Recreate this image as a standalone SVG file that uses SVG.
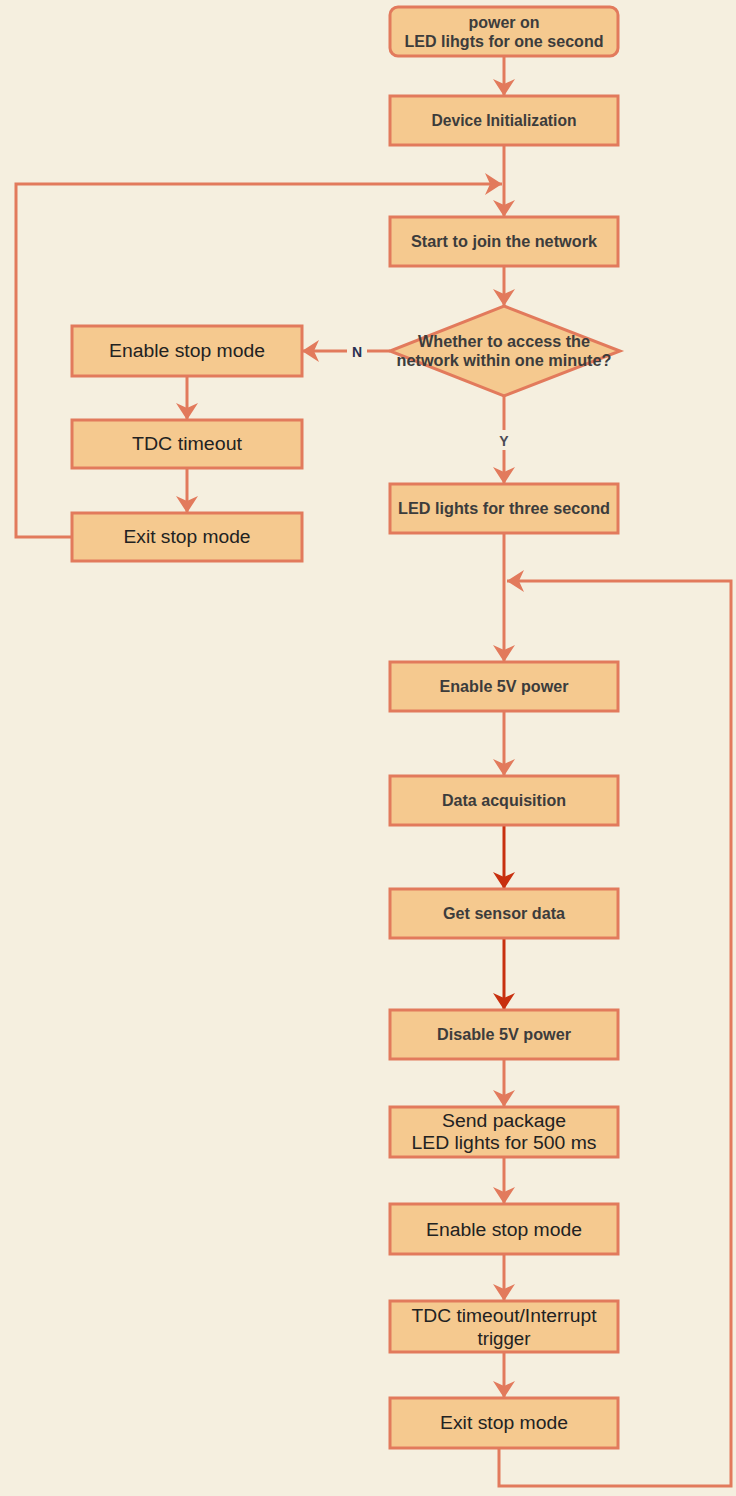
<svg xmlns="http://www.w3.org/2000/svg" width="736" height="1496" viewBox="0 0 736 1496">
<style>
.bg{fill:#f5efdf}
.box{fill:#f5c98f;stroke:#e27a5c;stroke-width:3}
.ln{fill:none;stroke:#e27a5c;stroke-width:3}
.dk{fill:none;stroke:#c8300f;stroke-width:3}
.b{font-family:"Liberation Sans",Arial,sans-serif;font-weight:bold;font-size:17px;fill:#3c3c3c;text-anchor:middle}
.n{font-family:"Liberation Sans",Arial,sans-serif;font-size:18px;fill:#222;text-anchor:middle}
.lbl{font-family:"Liberation Sans",Arial,sans-serif;font-weight:bold;font-size:14px;text-anchor:middle}
</style>
<defs>
<marker id="ar" markerUnits="userSpaceOnUse" markerWidth="17" markerHeight="22" refX="17" refY="11" orient="auto">
<path d="M0,0 L17,11 L0,22 L5,11 z" fill="#e27a5c"/>
</marker>
<marker id="ard" markerUnits="userSpaceOnUse" markerWidth="17" markerHeight="22" refX="17" refY="11" orient="auto">
<path d="M0,0 L17,11 L0,22 L5,11 z" fill="#c8300f"/>
</marker>
</defs>
<rect class="bg" x="0" y="0" width="736" height="1496"/>
<g id="connectors">
<path class="ln" d="M504,56 V96" marker-end="url(#ar)"/>
<path class="ln" d="M504,145 V217" marker-end="url(#ar)"/>
<path class="ln" d="M72,537 H16 V184 H502" marker-end="url(#ar)"/>
<path class="ln" d="M504,266 V306" marker-end="url(#ar)"/>
<path class="ln" d="M390,351 H302" marker-end="url(#ar)"/>
<path class="ln" d="M504,396 V484" marker-end="url(#ar)"/>
<path class="ln" d="M504,533 V662" marker-end="url(#ar)"/>
<path class="ln" d="M499,1448 V1486 H731 V581 H507" marker-end="url(#ar)"/>
<path class="ln" d="M504,711 V776" marker-end="url(#ar)"/>
<path class="dk" d="M504,825 V889" marker-end="url(#ard)"/>
<path class="dk" d="M504,938 V1010" marker-end="url(#ard)"/>
<path class="ln" d="M504,1059 V1107" marker-end="url(#ar)"/>
<path class="ln" d="M504,1157 V1204" marker-end="url(#ar)"/>
<path class="ln" d="M504,1254 V1301" marker-end="url(#ar)"/>
<path class="ln" d="M504,1352 V1398" marker-end="url(#ar)"/>
<path class="ln" d="M187,376 V420" marker-end="url(#ar)"/>
<path class="ln" d="M187,468 V513" marker-end="url(#ar)"/>
<rect class="bg" x="347" y="341" width="20" height="20"/>
<text class="lbl" x="357" y="357" fill="#2a3050">N</text>
<rect class="bg" x="495" y="430" width="18" height="20"/>
<text class="lbl" x="504" y="446" fill="#4a4a55">Y</text>
</g>
<g id="power-on">
<rect class="box" x="390" y="7" width="228" height="49" rx="8"/>
<text class="b" x="504" y="28" textLength="71" lengthAdjust="spacingAndGlyphs">power on</text>
<text class="b" x="504" y="47" textLength="199" lengthAdjust="spacingAndGlyphs">LED lihgts for one second</text>
</g>
<g id="device-init">
<rect class="box" x="390" y="96" width="228" height="49"/>
<text class="b" x="504" y="126" textLength="145" lengthAdjust="spacingAndGlyphs">Device Initialization</text>
</g>
<g id="join-network">
<rect class="box" x="390" y="217" width="228" height="49"/>
<text class="b" x="504" y="247" textLength="186" lengthAdjust="spacingAndGlyphs">Start to join the network</text>
</g>
<g id="decision">
<polygon class="box" points="504,306 620,351 504,396 390,351"/>
<text class="b" x="504" y="347" textLength="172" lengthAdjust="spacingAndGlyphs">Whether to access the</text>
<text class="b" x="504" y="366" textLength="215" lengthAdjust="spacingAndGlyphs">network within one minute?</text>
</g>
<g id="led-three">
<rect class="box" x="390" y="484" width="228" height="49"/>
<text class="b" x="504" y="514" textLength="212" lengthAdjust="spacingAndGlyphs">LED lights for three second</text>
</g>
<g id="left-enable-stop">
<rect class="box" x="72" y="326" width="230" height="50"/>
<text class="n" x="187" y="357" textLength="156" lengthAdjust="spacingAndGlyphs">Enable stop mode</text>
</g>
<g id="left-tdc">
<rect class="box" x="72" y="420" width="230" height="48"/>
<text class="n" x="187" y="450" textLength="110" lengthAdjust="spacingAndGlyphs">TDC timeout</text>
</g>
<g id="left-exit-stop">
<rect class="box" x="72" y="513" width="230" height="48"/>
<text class="n" x="187" y="543" textLength="127" lengthAdjust="spacingAndGlyphs">Exit stop mode</text>
</g>
<g id="enable-5v">
<rect class="box" x="390" y="662" width="228" height="49"/>
<text class="b" x="504" y="692" textLength="129" lengthAdjust="spacingAndGlyphs">Enable 5V power</text>
</g>
<g id="data-acq">
<rect class="box" x="390" y="776" width="228" height="49"/>
<text class="b" x="504" y="806" textLength="124" lengthAdjust="spacingAndGlyphs">Data acquisition</text>
</g>
<g id="get-sensor">
<rect class="box" x="390" y="889" width="228" height="49"/>
<text class="b" x="504" y="919" textLength="122" lengthAdjust="spacingAndGlyphs">Get sensor data</text>
</g>
<g id="disable-5v">
<rect class="box" x="390" y="1010" width="228" height="49"/>
<text class="b" x="504" y="1040" textLength="134" lengthAdjust="spacingAndGlyphs">Disable 5V power</text>
</g>
<g id="send-package">
<rect class="box" x="390" y="1107" width="228" height="50"/>
<text class="n" x="504" y="1127" textLength="124" lengthAdjust="spacingAndGlyphs">Send package</text>
<text class="n" x="504" y="1149" textLength="185" lengthAdjust="spacingAndGlyphs">LED lights for 500 ms</text>
</g>
<g id="enable-stop">
<rect class="box" x="390" y="1204" width="228" height="50"/>
<text class="n" x="504" y="1236" textLength="156" lengthAdjust="spacingAndGlyphs">Enable stop mode</text>
</g>
<g id="tdc-interrupt">
<rect class="box" x="390" y="1301" width="228" height="51"/>
<text class="n" x="504" y="1322" textLength="185" lengthAdjust="spacingAndGlyphs">TDC timeout/Interrupt</text>
<text class="n" x="504" y="1345" textLength="53" lengthAdjust="spacingAndGlyphs">trigger</text>
</g>
<g id="exit-stop">
<rect class="box" x="390" y="1398" width="228" height="50"/>
<text class="n" x="504" y="1429" textLength="128" lengthAdjust="spacingAndGlyphs">Exit stop mode</text>
</g>
</svg>
